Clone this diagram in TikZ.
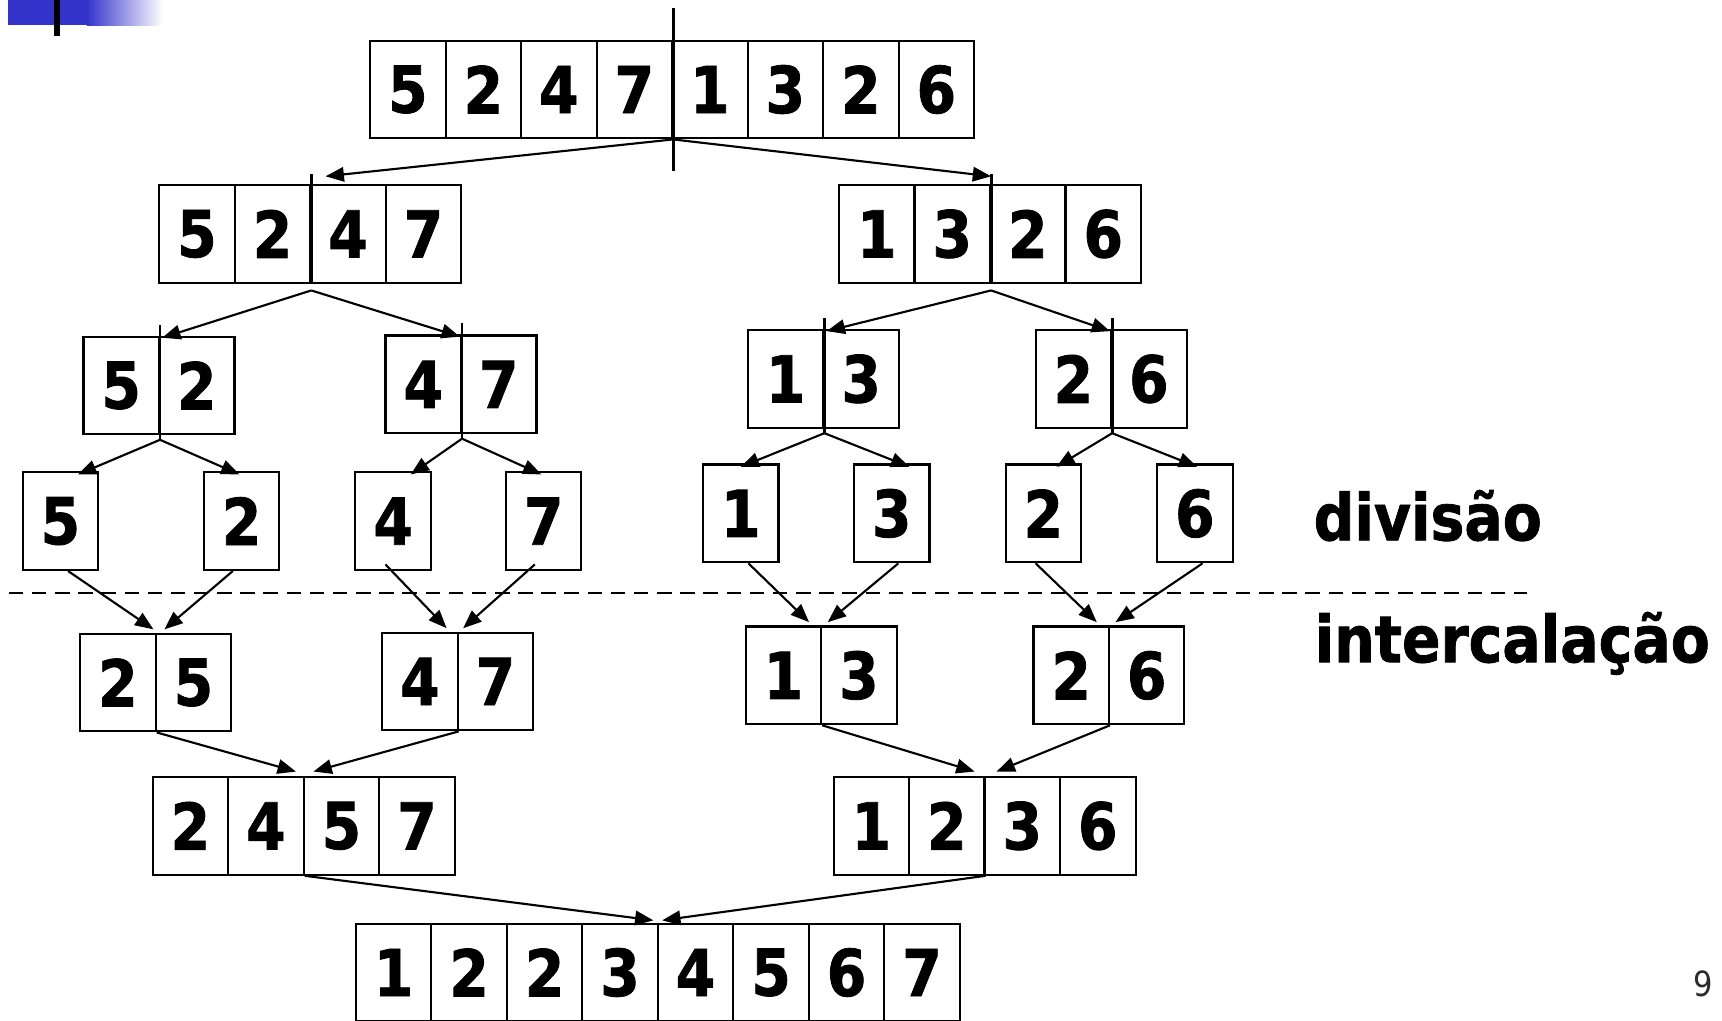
\documentclass[tikz,border=0pt]{standalone}
\usepackage{fontspec}
\setmainfont{DejaVu Sans}[FakeStretch=0.88, BoldFeatures={FakeBold=1.2}]
\definecolor{slideblue}{HTML}{3333CC}
\definecolor{pagegray}{HTML}{2B2B2B}
\usetikzlibrary{arrows.meta}

\begin{document}
\begin{tikzpicture}[x=0.02cm, y=-0.02cm,
    cell/.style={draw, line width=1.1pt, minimum width=1.375cm, minimum height=1.78cm, inner sep=0pt, font=\fontsize{33.5}{36}\selectfont\bfseries},
    arrow/.style={-{Triangle[length=9.5pt,width=7.5pt]}, line width=1.1pt},
    split/.style={line width=1.5pt},
    stage/.style={anchor=base west, font=\fontsize{33.5}{36}\selectfont\bfseries}
  ]
  \useasboundingbox (0,0) rectangle (1568,929);

  % slide corner
  \fill[slideblue] (7,0) rectangle (80,23);
  \shade[left color=slideblue, right color=white] (79,0) rectangle (148,23);
  \fill[black] (49,0) rectangle (55,33);

  % input
  \foreach \d [count=\i] in {5,2,4,7,1,3,2,6}
    \node[cell] (in\i) at ({337+(\i-0.5)*68.75},81.5) {\d};

  % first split
  \foreach \d [count=\i] in {5,2,4,7}
    \node[cell] (L\i) at ({145+(\i-0.5)*68.75},213) {\d};
  \foreach \d [count=\i] in {1,3,2,6}
    \node[cell] (R\i) at ({764+(\i-0.5)*68.75},213) {\d};

  % second split
  \foreach \d [count=\i] in {5,2}
    \node[cell] (LL\i) at ({76+(\i-0.5)*68.75},351) {\d};
  \foreach \d [count=\i] in {4,7}
    \node[cell] (LR\i) at ({351+(\i-0.5)*68.75},350) {\d};
  \foreach \d [count=\i] in {1,3}
    \node[cell] (RL\i) at ({681+(\i-0.5)*68.75},345) {\d};
  \foreach \d [count=\i] in {2,6}
    \node[cell] (RR\i) at ({943+(\i-0.5)*68.75},345) {\d};

  % single elements
  \node[cell] (s1) at (55,474.5) {5};
  \node[cell] (s2) at (220,474.5) {2};
  \node[cell] (s3) at (358,474.5) {4};
  \node[cell] (s4) at (495,474.5) {7};
  \node[cell] (s5) at (674.5,467.5) {1};
  \node[cell] (s6) at (812,467.5) {3};
  \node[cell] (s7) at (950,467.5) {2};
  \node[cell] (s8) at (1088,467.5) {6};

  % merged pairs
  \foreach \d [count=\i] in {2,5}
    \node[cell] (mLL\i) at ({73+(\i-0.5)*68.75},621.5) {\d};
  \foreach \d [count=\i] in {4,7}
    \node[cell] (mLR\i) at ({348+(\i-0.5)*68.75},620.5) {\d};
  \foreach \d [count=\i] in {1,3}
    \node[cell] (mRL\i) at ({679+(\i-0.5)*68.75},615) {\d};
  \foreach \d [count=\i] in {2,6}
    \node[cell] (mRR\i) at ({941+(\i-0.5)*68.75},615) {\d};

  % merged halves
  \foreach \d [count=\i] in {2,4,5,7}
    \node[cell] (mL\i) at ({139+(\i-0.5)*68.75},752) {\d};
  \foreach \d [count=\i] in {1,2,3,6}
    \node[cell] (mR\i) at ({759+(\i-0.5)*68.75},752) {\d};

  % output
  \foreach \d [count=\i] in {1,2,2,3,4,5,6,7}
    \node[cell] (out\i) at ({324+(\i-0.5)*68.75},885.5) {\d};

  % split marks
  \draw[split] ([shift={(0,-29)}]in4.north east) -- ([shift={(0,29)}]in4.south east);
  \draw[split] ([shift={(0,-9)}]L2.north east) -- (L2.south east);
  \draw[split] ([shift={(0,-9)}]R2.north east) -- (R2.south east);
  \foreach \n in {LL,LR,RL,RR}
    \draw[split] ([shift={(0,-10)}]\n1.north east) -- ([shift={(0,4)}]\n1.south east);

  % division
  \draw[arrow] (in4.south east) -- ([shift={(13,-7)}]L2.north east);
  \draw[arrow] (in4.south east) -- ([shift={(0,-7)}]R2.north east);
  \draw[arrow] ([shift={(0,6)}]L2.south east) -- ([shift={(2,2)}]LL1.north east);
  \draw[arrow] ([shift={(0,6)}]L2.south east) -- ([shift={(-2,2)}]LR1.north east);
  \draw[arrow] ([shift={(0,6)}]R2.south east) -- ([shift={(2,2)}]RL1.north east);
  \draw[arrow] ([shift={(0,6)}]R2.south east) -- ([shift={(-2,2)}]RR1.north east);
  \draw[arrow] ([shift={(0,4)}]LL1.south east) -- ([shift={(16,3)}]s1.north);
  \draw[arrow] ([shift={(0,4)}]LL1.south east) -- ([shift={(-2,3)}]s2.north);
  \draw[arrow] ([shift={(0,4)}]LR1.south east) -- ([shift={(16,3)}]s3.north);
  \draw[arrow] ([shift={(0,4)}]LR1.south east) -- ([shift={(-2,3)}]s4.north);
  \draw[arrow] ([shift={(0,4)}]RL1.south east) -- ([shift={(0,3)}]s5.north);
  \draw[arrow] ([shift={(0,4)}]RL1.south east) -- ([shift={(16,3)}]s6.north);
  \draw[arrow] ([shift={(0,4)}]RR1.south east) -- ([shift={(12,3)}]s7.north);
  \draw[arrow] ([shift={(0,4)}]RR1.south east) -- ([shift={(2,3)}]s8.north);

  % merge
  \draw[arrow] ([shift={(7,0)}]s1.south) -- ([shift={(-3,-3)}]mLL1.north east);
  \draw[arrow] ([shift={(-8,0)}]s2.south) -- ([shift={(7,-3)}]mLL1.north east);
  \draw[arrow] ([shift={(-7,-6)}]s3.south) -- ([shift={(-11,-3)}]mLR1.north east);
  \draw[arrow] ([shift={(-8,-6)}]s4.south) -- ([shift={(4,-3)}]mLR1.north east);
  \draw[arrow] ([shift={(7,0)}]s5.south) -- ([shift={(-12,-3)}]mRL1.north east);
  \draw[arrow] ([shift={(6,0)}]s6.south) -- ([shift={(5,-3)}]mRL1.north east);
  \draw[arrow] ([shift={(-7,0)}]s7.south) -- ([shift={(-12,-3)}]mRR1.north east);
  \draw[arrow] ([shift={(7,0)}]s8.south) -- ([shift={(5,-3)}]mRR1.north east);
  \draw[arrow] (mLL1.south east) -- ([shift={(-8,-4)}]mL2.north east);
  \draw[arrow] (mLR1.south east) -- ([shift={(8,-4)}]mL2.north east);
  \draw[arrow] (mRL1.south east) -- ([shift={(-10,-4)}]mR2.north east);
  \draw[arrow] (mRR1.south east) -- ([shift={(10,-4)}]mR2.north east);
  \draw[arrow] (mL2.south east) -- ([shift={(-5,-2)}]out4.north east);
  \draw[arrow] (mR2.south east) -- ([shift={(3,-2)}]out4.north east);

  % phases
  \draw[line width=1.1pt, dash pattern=on 7.5pt off 4.5pt] (8,540) -- (1390,540);
  \node[stage] (div) at (1190,492) {divisão};
  \node[stage] (inter) at (1191,603) {intercalação};

  \node[font=\fontsize{18}{20}\selectfont, text=pagegray] (page) at (1551,896) {9};
\end{tikzpicture}
\end{document}
